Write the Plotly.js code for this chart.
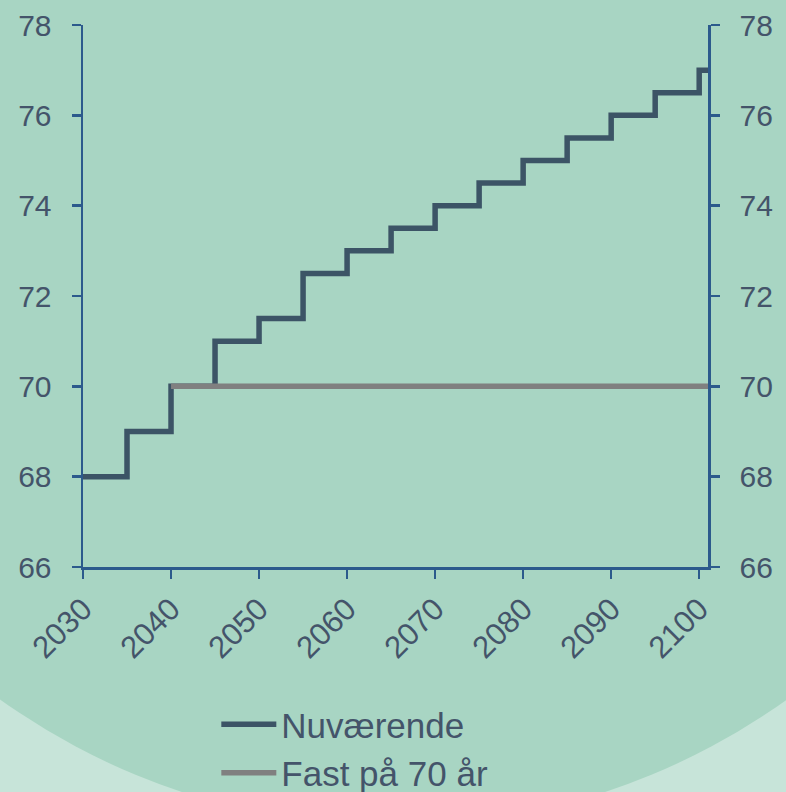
<!DOCTYPE html>
<html>
<head>
<meta charset="utf-8">
<script src="https://cdn.plot.ly/plotly-3.0.1.min.js"></script>
<style>
  html, body { margin: 0; padding: 0; background: #c7e4d9; }
  #chart { width: 786px; height: 792px; }
</style>
</head>
<body>
<div id="chart"></div>
<script>
// Data
const nuvYears  = [2030, 2035, 2040, 2045, 2050, 2055, 2060, 2065, 2070, 2075, 2080, 2085, 2090, 2095, 2100, 2101];
const nuvValues = [68, 69, 70, 71, 71.5, 72.5, 73, 73.5, 74, 74.5, 75, 75.5, 76, 76.5, 77, 77];
const fastYears  = [2040, 2101];
const fastValues = [70, 70];
const seriesNames = ["Nuværende", "Fast på 70 år"];
const xTicks = [2030, 2040, 2050, 2060, 2070, 2080, 2090, 2100];
const yTicks = [66, 68, 70, 72, 74, 76, 78];

const textColor = "#44546a";
const axisColor = "#2c5a8c";
const font = "Liberation Sans, Arial, sans-serif";

const traces = [
  {
    x: nuvYears, y: nuvValues, name: seriesNames[0],
    type: "scatter", mode: "lines", yaxis: "y",
    line: { shape: "hv", color: "#3c5466", width: 5.5 },
    hoverinfo: "skip"
  },
  {
    x: fastYears, y: fastValues, name: seriesNames[1],
    type: "scatter", mode: "lines", yaxis: "y2",
    line: { shape: "hv", color: "#808080", width: 5.5 },
    hoverinfo: "skip"
  }
];

const yAxisCommon = {
  range: [66, 78],
  tickvals: yTicks,
  ticktext: yTicks.map(String),
  showgrid: false,
  zeroline: false,
  showline: true,
  linecolor: axisColor,
  linewidth: 2.5,
  ticks: "outside",
  ticklen: 9,
  tickwidth: 2.5,
  tickcolor: axisColor,
  ticklabelstandoff: 14,
  automargin: false,
  tickfont: { family: font, size: 30, color: textColor }
};

const layout = {
  width: 786,
  height: 792,
  margin: { l: 83, r: 78, t: 25, b: 225 },
  paper_bgcolor: "#c7e4d9",
  plot_bgcolor: "rgba(0,0,0,0)",
  showlegend: true,
  font: { family: font, color: textColor },
  xaxis: {
    range: [2030, 2101],
    tickvals: xTicks,
    ticktext: xTicks.map(String),
    tickangle: -45,
    showgrid: false,
    zeroline: false,
    showline: true,
    linecolor: axisColor,
    linewidth: 2.5,
    ticks: "outside",
    ticklen: 9,
    tickwidth: 2.5,
    tickcolor: axisColor,
    automargin: false,
    tickfont: { family: font, size: 31, color: textColor }
  },
  yaxis: Object.assign({}, yAxisCommon, { side: "left" }),
  yaxis2: Object.assign({}, yAxisCommon, { side: "right", overlaying: "y", anchor: "x" }),
  legend: {
    xref: "paper", yref: "container",
    x: 0.2133, xanchor: "left",
    y: 0.1225, yanchor: "top",
    itemwidth: 55,
    bgcolor: "rgba(0,0,0,0)",
    font: { family: font, size: 35, color: textColor },
    tracegroupgap: 0
  },
  shapes: [
    {
      type: "circle", xref: "paper", yref: "paper", layer: "below",
      x0: -0.5817, x1: 1.5753, y0: -0.4779, y1: 2.0055,
      fillcolor: "#a8d5c3", line: { width: 0 }
    }
  ]
};

Plotly.newPlot("chart", traces, layout, { displayModeBar: false, staticPlot: true });
</script>
</body>
</html>
